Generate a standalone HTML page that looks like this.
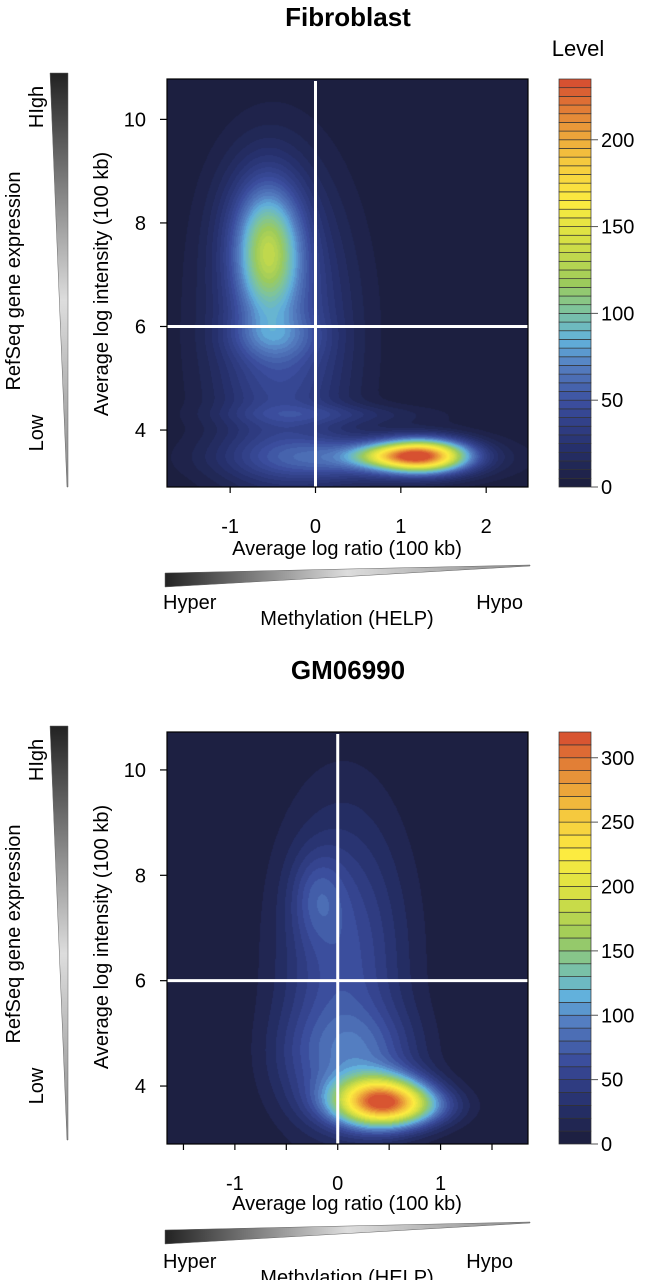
<!DOCTYPE html>
<html><head><meta charset="utf-8">
<style>
html,body{margin:0;padding:0;background:#fff;}
#wrap{position:relative;width:649px;height:1280px;overflow:hidden;font-family:"Liberation Sans",sans-serif;}
canvas{position:absolute;}
svg{position:absolute;left:0;top:0;}
text{font-family:"Liberation Sans",sans-serif;fill:#000;}
</style></head>
<body>
<div id="wrap">
<canvas id="c1" width="361" height="408" style="left:167px;top:79px"></canvas>
<canvas id="c2" width="361" height="412" style="left:167px;top:732px"></canvas>
<svg id="svg" width="649" height="1280"></svg>
</div>
<script>
// ---- Panel 1: Fibroblast ----
const p1ClusterX  = [-0.55, 1.25, -0.4, 0.5, 0.2, -0.5, 0.8, -0.6];
const p1ClusterY  = [7.4, 3.5, 5.8, 3.45, 4.3, 5.8, 3.5, 7.8];
const p1ClusterSX = [0.24, 0.36, 0.55, 0.95, 0.8, 0.35, 0.3, 0.35];
const p1ClusterSY = [0.8, 0.21, 2.0, 0.3, 0.14, 0.3, 0.14, 1.0];
const p1ClusterAmp= [68, 195, 48, 50, 18, 22, 45, 35];
const p1XTicks = [-1, 0, 1, 2];
const p1YTicks = [4, 6, 8, 10];
const p1CbTicks = [0, 50, 100, 150, 200];
// ---- Panel 2: GM06990 ----
const p2ClusterX  = [0.42, 0.05, -0.2, 0.3, 0.8, -0.3];
const p2ClusterY  = [3.7, 6.3, 7.6, 4.6, 3.6, 4.5];
const p2ClusterSX = [0.32, 0.42, 0.18, 0.35, 0.3, 0.3];
const p2ClusterSY = [0.33, 2.0, 0.6, 0.6, 0.25, 0.7];
const p2ClusterAmp= [280, 65, 35, 45, 45, 25];
const p2XTicks = [-1.5, -1, -0.5, 0, 0.5, 1, 1.5];
const p2XTickLabels = ["", "-1", "", "0", "", "1", ""];
const p2YTicks = [4, 6, 8, 10];
const p2CbTicks = [0, 50, 100, 150, 200, 250, 300];

const stops = [[0,"#1b1d3a"],[0.1,"#27316e"],[0.2,"#3a4c9c"],[0.3,"#5580c2"],[0.36,"#62b2dc"],[0.43,"#7cc3a0"],[0.5,"#9ccb5c"],[0.6,"#d4df44"],[0.7,"#fcec40"],[0.8,"#f5c83e"],[0.9,"#e68e38"],[1,"#d54a30"]];
function hex(h){return [parseInt(h.substr(1,2),16),parseInt(h.substr(3,2),16),parseInt(h.substr(5,2),16)];}
function pal(f){f=Math.max(0,Math.min(1,f));for(let i=1;i<stops.length;i++){if(f<=stops[i][0]){const a=stops[i-1],b=stops[i];const t=(f-a[0])/(b[0]-a[0]);const A=hex(a[1]),B=hex(b[1]);return [0,1,2].map(k=>Math.round(A[k]+(B[k]-A[k])*t));}}return hex(stops[stops.length-1][1]);}
const NS="http://www.w3.org/2000/svg";
const svg=document.getElementById('svg');
function el(tag,attrs,txt){const e=document.createElementNS(NS,tag);for(const k in attrs)e.setAttribute(k,attrs[k]);if(txt!==undefined)e.textContent=txt;svg.appendChild(e);return e;}

function panel(o){
  const sx=v=>o.L+(v-o.x0)/(o.x1-o.x0)*(o.R-o.L);
  const sy=v=>o.B-(v-o.y0)/(o.y1-o.y0)*(o.B-o.T);
  const cv=document.getElementById(o.canvas),ctx=cv.getContext('2d');
  const W=cv.width,H=cv.height,img=ctx.createImageData(W,H);
  for(let py=0;py<H;py++){for(let px=0;px<W;px++){
    const x=o.x0+(px+0.5)/W*(o.x1-o.x0), y=o.y1-(py+0.5)/H*(o.y1-o.y0);
    let v=0;for(let i=0;i<o.cx.length;i++){const dx=(x-o.cx[i])/o.csx[i],dy=(y-o.cy[i])/o.csy[i];v+=o.ca[i]*Math.exp(-0.5*(dx*dx+dy*dy));}
    const band=Math.min(Math.floor(v/o.step),Math.floor(o.max/o.step)-1);
    const c=pal((band+0.5)*o.step/o.max);const k=(py*W+px)*4;
    img.data[k]=c[0];img.data[k+1]=c[1];img.data[k+2]=c[2];img.data[k+3]=255;}}
  ctx.putImageData(img,0,0);
  const vl=el('line',{x1:sx(0),x2:sx(0),y1:o.T+2,y2:o.B,stroke:'#fff','stroke-width':3});
  
  const hl=el('line',{x1:o.L,x2:o.R,y1:sy(6),y2:sy(6),stroke:'#fff','stroke-width':3});
  
  const fr=el('rect',{x:o.L,y:o.T,width:o.R-o.L,height:o.B-o.T,fill:'none',stroke:'#000','stroke-width':1.2});
  
  o.xt.forEach((t,i)=>{const x=sx(t);
    const tk=el('line',{x1:x,x2:x,y1:o.B,y2:o.B+6,stroke:'#000','stroke-width':1.2});
    
    const lab=o.xtl?o.xtl[i]:String(t);
    if(lab){const tl=el('text',{x:x,y:o.B+46,'font-size':20,'text-anchor':'middle'},lab);
      }});
  o.yt.forEach(t=>{const y=sy(t);
    const tk=el('line',{x1:o.L-7,x2:o.L,y1:y,y2:y,stroke:'#000','stroke-width':1.2});
    
    const tl=el('text',{x:o.L-21,y:y+7,'font-size':20,'text-anchor':'end'},String(t));
    });
  const cbL=559,cbR=591,nb=Math.floor(o.max/o.step);
  const cy=v=>o.B-v/o.max*(o.B-o.T);
  for(let b=0;b<nb;b++){const c=pal((b+0.5)/nb);
    const r=el('rect',{x:cbL,y:cy((b+1)*o.step),width:cbR-cbL,height:cy(b*o.step)-cy((b+1)*o.step),fill:`rgb(${c})`,stroke:'#333','stroke-width':0.7});
    }
  o.cbt.forEach(t=>{const y=cy(t);
    const tk=el('line',{x1:cbR,x2:cbR+7,y1:y,y2:y,stroke:'#555','stroke-width':1});
    
    const tl=el('text',{x:cbR+10,y:y+7,'font-size':20},String(t));
    });
}
panel({canvas:'c1',L:167,R:528,T:79,B:487,x0:-1.74,x1:2.49,y0:2.9,y1:10.78,cx:p1ClusterX,cy:p1ClusterY,csx:p1ClusterSX,csy:p1ClusterSY,ca:p1ClusterAmp,max:235,step:5,xt:p1XTicks,yt:p1YTicks,cbt:p1CbTicks});
panel({canvas:'c2',L:167,R:528,T:732,B:1144,x0:-1.66,x1:1.85,y0:2.9,y1:10.72,cx:p2ClusterX,cy:p2ClusterY,csx:p2ClusterSX,csy:p2ClusterSY,ca:p2ClusterAmp,max:320,step:10,xt:p2XTicks,xtl:p2XTickLabels,yt:p2YTicks,cbt:p2CbTicks});
</script>
<script>
(function(){
const NS="http://www.w3.org/2000/svg",svg=document.getElementById('svg');
let defs=document.createElementNS(NS,'defs');defs.innerHTML='<linearGradient id="gh" x1="0" x2="1" y1="0" y2="0"><stop offset="0" stop-color="#222"/><stop offset="0.5" stop-color="#ddd"/><stop offset="1" stop-color="#888"/></linearGradient><linearGradient id="gv" x1="0" x2="0" y1="0" y2="1"><stop offset="0" stop-color="#222"/><stop offset="0.55" stop-color="#ddd"/><stop offset="1" stop-color="#888"/></linearGradient>';svg.appendChild(defs);
function T(x,y,s,txt,name,extra){const e=document.createElementNS(NS,'text');e.setAttribute('x',x);e.setAttribute('y',y);e.setAttribute('font-size',s);for(const k in (extra||{}))e.setAttribute(k,extra[k]);e.textContent=txt;svg.appendChild(e);return e;}
function P(d,fill,name){const e=document.createElementNS(NS,'path');e.setAttribute('d',d);e.setAttribute('fill',fill);e.setAttribute('stroke','#666');e.setAttribute('stroke-width','0.5');svg.appendChild(e);}
[[0,'fibroblast'],[653,'gm06990']].forEach(([dy,n],i)=>{
  T(348,26+dy,26,i?'GM06990':'Fibroblast',n+'-title',{'font-weight':'bold','text-anchor':'middle'});
  const by=i?1144:487;
  T(347,by+(i?66:68),20,'Average log ratio (100 kb)','x-axis-title',{'text-anchor':'middle'});
  P(`M165 ${by+86} L530 ${by+78} L530 ${by+79} L165 ${by+100} Z`,'url(#gh)','methylation-gradient-triangle');
  T(163,by+(i?124:122),20,'Hyper','hyper-label');
  T(i?513:523,by+(i?124:122),20,'Hypo','hypo-label',{'text-anchor':'end'});
  T(347,by+(i?140:138),20,'Methylation (HELP)','methylation-label',{'text-anchor':'middle'});
  const ty=i?732:79;
  T(108,ty+205,20,'Average  log intensity (100 kb)','y-axis-title',{'text-anchor':'middle',transform:`rotate(-90 108 ${ty+205})`});
  P(`M50 ${ty-6} L68 ${ty-6} L68 ${ty+408} L67 ${ty+408} Z`,'url(#gv)','expression-gradient-triangle');
  T(20,ty+202,20,'RefSeq gene expression','expression-label',{'text-anchor':'middle',transform:`rotate(-90 20 ${ty+202})`});
  T(43,ty+28,20,'HIgh','high-label',{'text-anchor':'middle',transform:`rotate(-90 43 ${ty+28})`});
  T(43,ty+354,20,'Low','low-label',{'text-anchor':'middle',transform:`rotate(-90 43 ${ty+354})`});
});
T(578,56,22,'Level','colorbar-title',{'text-anchor':'middle'});
})();
</script>
</body></html>
